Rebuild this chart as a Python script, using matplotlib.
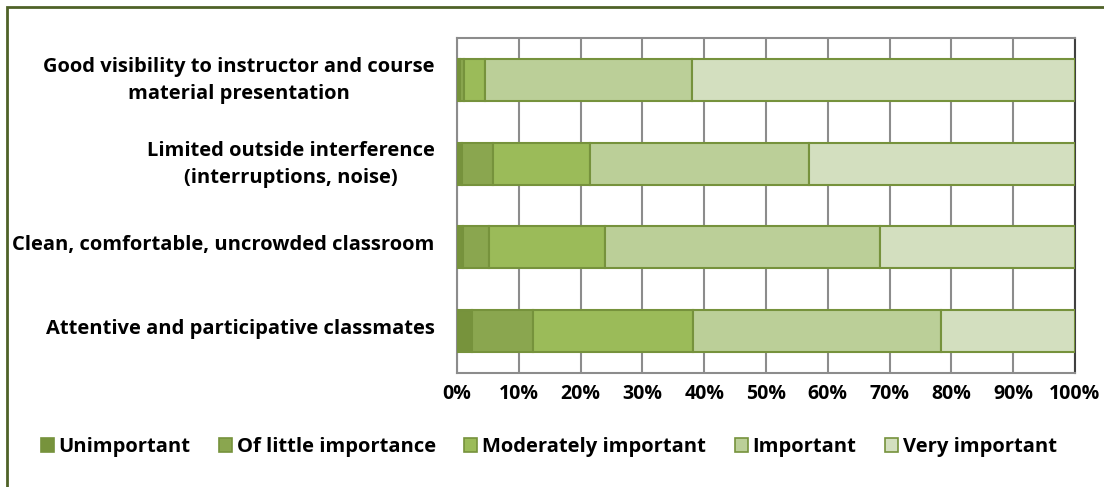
import matplotlib.pyplot as plt
import matplotlib.patches as mpatches
import matplotlib.transforms as mtransforms
import numpy as np

plt.rcParams['font.family'] = ['Open Sans', 'DejaVu Sans']
plt.rcParams['font.weight'] = 'bold'

categories = ['Good visibility to instructor and course\nmaterial presentation',
              'Limited outside interference\n(interruptions, noise)',
              'Clean, comfortable, uncrowded classroom',
              'Attentive and participative classmates']
levels = ['Unimportant', 'Of little importance', 'Moderately important', 'Important', 'Very important']

unimportant = [0.5, 0.8, 1.0, 2.5]
little = [0.6, 5.0, 4.1, 9.8]
moderate = [3.4, 15.7, 18.8, 25.9]
important = [33.6, 35.5, 44.6, 40.1]
very = [61.9, 43.0, 31.5, 21.7]

colors = ['#77933C', '#8AA64F', '#9BBB59', '#BBCF98', '#D3DFBF']
edge = '#76923C'

series = [unimportant, little, moderate, important, very]

fig = plt.figure(figsize=(11.04, 4.87), dpi=100)
ax = fig.add_axes([457 / 1104, 1 - 373 / 487, (1075 - 457) / 1104, (373 - 38) / 487])

y = np.arange(len(categories))
left = np.zeros(len(categories))
for vals, col, name in zip(series, colors, levels):
    ax.barh(y, vals, left=left, height=0.5, color=col, edgecolor=edge, linewidth=1.5,
            label=name, zorder=3)
    left += np.array(vals)

ax.set_xlim(0, 100)
ax.set_ylim(len(categories) - 0.5, -0.5)
ax.set_xticks(np.arange(0, 101, 10))
ax.set_xticklabels([f'{v}%' for v in range(0, 101, 10)], fontsize=14, fontweight='bold')
ax.set_yticks(y)
ax.set_yticklabels(categories, fontsize=14.5, fontweight='bold', ha='right',
                   multialignment='center', linespacing=1.45)
ax.tick_params(length=0, pad=16)
ax.tick_params(axis='x', pad=8)
ax.grid(axis='x', color='#8C8C8C', linewidth=1.5, zorder=0)
for s in ['top', 'bottom', 'left']:
    ax.spines[s].set_color('#8C8C8C')
    ax.spines[s].set_linewidth(1.5)
ax.spines['right'].set_color('#404040')
ax.spines['right'].set_linewidth(1.5)

# nudge category labels up a little, Open Sans sits low
shift = mtransforms.ScaledTranslation(0, 5 / 100, fig.dpi_scale_trans)
for lab in ax.get_yticklabels():
    lab.set_transform(lab.get_transform() + shift)

handles = [mpatches.Patch(facecolor=c, edgecolor=edge, linewidth=1.2) for c in colors]
fig.legend(handles, levels, loc='center', bbox_to_anchor=(0.497, 1 - 447 / 487), ncol=5,
           frameon=False, prop={'size': 14.5, 'weight': 'bold'},
           handlelength=0.65, handleheight=0.65, handletextpad=0.25, columnspacing=1.4)

# outer frame, cut off at right and bottom like the source
fig.add_artist(mpatches.Rectangle((7 / 1104, -0.1), 1.2, 1 - 7 / 487 + 0.1,
                                  transform=fig.transFigure, fill=False,
                                  edgecolor='#4F6228', linewidth=2))

fig.savefig('out.png', dpi=100)
